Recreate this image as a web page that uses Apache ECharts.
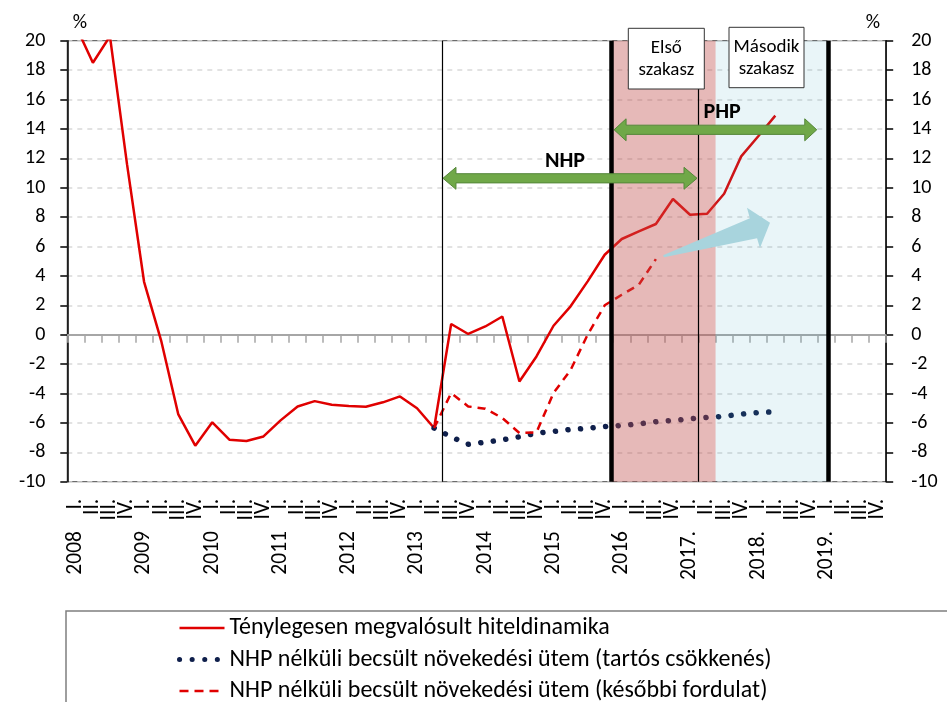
<!DOCTYPE html>
<html>
<head>
<meta charset="utf-8">
<script src="https://cdn.jsdelivr.net/npm/echarts@6/dist/echarts.min.js"></script>
<style>
html,body{margin:0;padding:0;background:#fff;}
#chart{width:947px;height:702px;}
</style>
</head>
<body>
<div id="chart"></div>
<script>
// ---- Data ----
const categories = [
  '2008\u2003I.','II.','III.','IV.',
  '2009\u2003I.','II.','III.','IV.',
  '2010\u2003I.','II.','III.','IV.',
  '2011\u2003I.','II.','III.','IV.',
  '2012\u2003I.','II.','III.','IV.',
  '2013\u2003I.','II.','III.','IV.',
  '2014\u2003I.','II.','III.','IV.',
  '2015\u2003I.','II.','III.','IV.',
  '2016\u2003I.','II.','III.','IV.',
  '2017.\u2003I.','II.','III.','IV.',
  '2018.\u2003I.','II.','III.','IV.',
  '2019.\u2003I.','II.','III.','IV.'
];
const yTicks = { min: -10, max: 20, interval: 2 };

const actualGrowth = [
  21.0, 18.5, 20.3, 11.6,
  3.6, -0.4, -5.4, -7.55,
  -5.96, -7.14, -7.23, -6.92,
  -5.83, -4.88, -4.52, -4.76,
  -4.85, -4.9, -4.6, -4.2,
  -5.0, -6.35, 0.73, 0.05,
  0.56, 1.24, -3.18, -1.48,
  0.61, 1.93, 3.63, 5.44,
  6.51, 7.03, 7.53, 9.23,
  8.16, 8.23, 9.59, 12.13,
  13.5, 14.9, null, null,
  null, null, null, null
];
const persistentDecline = [
  null, null, null, null,
  null, null, null, null,
  null, null, null, null,
  null, null, null, null,
  null, null, null, null,
  null, -6.35, -6.95, -7.45,
  -7.32, -7.15, -6.95, -6.7,
  -6.58, -6.45, -6.37, -6.25,
  -6.17, -6.07, -5.92, -5.83,
  -5.72, -5.63, -5.55, -5.4,
  -5.3, -5.24, null, null,
  null, null, null, null
];
const laterTurn = [
  null, null, null, null,
  null, null, null, null,
  null, null, null, null,
  null, null, null, null,
  null, null, null, null,
  null, -6.35, -3.97, -4.88,
  -5.03, -5.67, -6.69, -6.64,
  -3.97, -2.4, 0.0, 2.0,
  2.72, 3.4, 5.14, null,
  null, null, null, null,
  null, null, null, null,
  null, null, null, null
];
const seriesNames = [
  'Ténylegesen megvalósult hiteldinamika',
  'NHP nélküli becsült növekedési ütem (tartós csökkenés)',
  'NHP nélküli becsült növekedési ütem (későbbi fordulat)'
];
// phase positions on a continuous quarter scale (0 = left edge, 48 = right edge)
const phaseFirst = [31.9, 38.0];
const phaseSecond = [38.0, 44.6];
const thinMarkers = [22.0, 37.0];

// ---- Chart ----
const FONT = 'Carlito, Lato, "Liberation Sans", sans-serif';
const RED = '#e00000';
const NAVY = '#0f1f4b';
const chart = echarts.init(document.getElementById('chart'), null, {renderer: 'canvas'});

const option = {
  animation: false,
  backgroundColor: '#fff',
  textStyle: { fontFamily: FONT },
  grid: {
    left: 67.3, right: 60.8, top: 40.7, bottom: 220.3,
    show: true, borderColor: '#6b6b6b', borderWidth: 1.2, backgroundColor: 'transparent'
  },
  legend: {
    orient: 'vertical',
    left: 177, top: 615, height: 140, padding: 0,
    itemWidth: 45, itemHeight: 12, itemGap: 5.5,
    itemStyle: { color: 'rgba(0,0,0,0)', borderColor: 'rgba(0,0,0,0)', borderWidth: 0 },
    textStyle: { fontSize: 24, color: '#000', fontFamily: FONT, lineHeight: 26 },
    data: [
      { name: seriesNames[0], lineStyle: { color: RED, width: 2.5, type: 'solid' } },
      { name: seriesNames[1], lineStyle: { color: NAVY, width: 5, type: [0.1, 12.5], cap: 'round' } },
      { name: seriesNames[2], lineStyle: { color: RED, width: 2.5, type: [9, 6] } }
    ]
  },
  xAxis: [
    {
      type: 'category', data: categories, position: 'bottom', boundaryGap: true,
      axisLine: { show: false }, axisTick: { show: false }, splitLine: { show: false },
      axisLabel: { rotate: 90, interval: 0, margin: 17, fontSize: 21.5, color: '#000', fontFamily: FONT }
    },
    {
      type: 'category', data: categories, position: 'top', boundaryGap: true,
      axisLine: { show: true, onZero: true, lineStyle: { color: '#a6a6a6', width: 2 } },
      axisTick: { show: true, inside: true, length: 8, interval: 0, lineStyle: { color: '#a6a6a6', width: 1.5 } },
      axisLabel: { show: false }, splitLine: { show: false }
    },
    {
      type: 'value', min: 0, max: 48, show: false, position: 'bottom'
    }
  ],
  yAxis: [
    {
      type: 'value', position: 'left', min: yTicks.min, max: yTicks.max, interval: yTicks.interval,
      axisLine: { show: true, lineStyle: { color: '#000', width: 1.5 } },
      axisTick: { show: true, length: 7, lineStyle: { color: '#000', width: 1.5 } },
      axisLabel: { fontSize: 20, color: '#000', margin: 22, fontFamily: FONT },
      splitLine: { show: true, lineStyle: { color: '#d9d9d9', width: 1.5, type: [5, 5] } }
    },
    {
      type: 'value', position: 'right', min: yTicks.min, max: yTicks.max, interval: yTicks.interval,
      axisLine: { show: true, lineStyle: { color: '#000', width: 1.5 } },
      axisTick: { show: true, length: 7, lineStyle: { color: '#000', width: 1.5 } },
      axisLabel: { fontSize: 20, color: '#000', margin: 25, fontFamily: FONT },
      splitLine: { show: false }
    }
  ],
  series: [
    {
      name: seriesNames[0], type: 'line', data: actualGrowth, xAxisIndex: 0, yAxisIndex: 0,
      symbol: 'none', z: 2, clip: true, connectNulls: false,
      lineStyle: { color: RED, width: 2.5 }, itemStyle: { color: RED }
    },
    {
      name: seriesNames[1], type: 'line', data: persistentDecline, xAxisIndex: 0, yAxisIndex: 0,
      symbol: 'none', z: 2,
      lineStyle: { color: NAVY, width: 5.5, type: [0.1, 12.5], cap: 'round' }, itemStyle: { color: NAVY }
    },
    {
      name: seriesNames[2], type: 'line', data: laterTurn, xAxisIndex: 0, yAxisIndex: 0,
      symbol: 'none', z: 2,
      lineStyle: { color: RED, width: 2.5, type: [8, 6] }, itemStyle: { color: RED }
    },
    {
      name: 'phases', type: 'line', data: [], xAxisIndex: 2, yAxisIndex: 0, z: 3,
      markArea: {
        silent: true, z: 3,
        data: [
          [{ coord: [phaseFirst[0], yTicks.min], itemStyle: { color: 'rgba(192,80,77,0.4)' } },
           { coord: [phaseFirst[1], yTicks.max] }],
          [{ coord: [phaseSecond[0], yTicks.min], itemStyle: { color: 'rgba(75,172,198,0.12)' } },
           { coord: [phaseSecond[1], yTicks.max] }]
        ]
      }
    },
    {
      name: 'markers', type: 'line', data: [], xAxisIndex: 2, yAxisIndex: 0, z: 4,
      markLine: {
        silent: true, symbol: 'none', z: 4, label: { show: false },
        data: [
          [{ coord: [phaseFirst[0], yTicks.min], lineStyle: { color: '#000', width: 4.5, type: 'solid' } },
           { coord: [phaseFirst[0], yTicks.max] }],
          [{ coord: [phaseSecond[1], yTicks.min], lineStyle: { color: '#000', width: 4.5, type: 'solid' } },
           { coord: [phaseSecond[1], yTicks.max] }],
          [{ coord: [thinMarkers[0], yTicks.min], lineStyle: { color: '#000', width: 1.2, type: 'solid' } },
           { coord: [thinMarkers[0], yTicks.max] }],
          [{ coord: [thinMarkers[1], yTicks.min], lineStyle: { color: '#000', width: 1.2, type: 'solid' } },
           { coord: [thinMarkers[1], yTicks.max] }]
        ]
      }
    }
  ]
};
chart.setOption(option);

// ---- Annotations (positioned through the axes) ----
function px(x, y) { return chart.convertToPixel({ xAxisIndex: 2, yAxisIndex: 0 }, [x, y]); }
function doubleArrow(x1, x2, yv, h, H, L) {
  const a = px(x1, yv), b = px(x2, yv);
  const y = a[1], l = a[0], r = b[0];
  return [[l, y], [l + L, y - H], [l + L, y - h], [r - L, y - h], [r - L, y - H], [r, y],
          [r - L, y + H], [r - L, y + h], [l + L, y + h], [l + L, y + H]];
}
const nhpArrow = doubleArrow(22.02, 36.91, 10.64, 4.6, 11, 13);
const phpArrow = doubleArrow(32.05, 43.93, 13.94, 4.6, 11, 12);
const tealArrowPts = [[34.92, 5.41], [40.01, 7.92], [39.84, 8.64], [41.19, 7.62], [40.60, 5.89], [40.43, 6.56], [34.98, 5.27]]
  .map(p => px(p[0], p[1]));
const nhpTxt = px(29.17, 11.79);
const phpTxt = px(38.38, 15.12);

chart.setOption({
  graphic: [
    { type: 'polygon', z: 20, shape: { points: nhpArrow }, style: { fill: '#70a848', stroke: '#55873a', lineWidth: 1 } },
    { type: 'polygon', z: 20, shape: { points: phpArrow }, style: { fill: '#70a848', stroke: '#55873a', lineWidth: 1 } },
    { type: 'polygon', z: 20, shape: { points: tealArrowPts }, style: { fill: '#a8d4dd', stroke: null } },
    { type: 'text', z: 21, x: nhpTxt[0], y: nhpTxt[1], style: { text: 'NHP', font: 'bold 22px ' + FONT, fill: '#000', align: 'center', verticalAlign: 'middle' } },
    { type: 'text', z: 21, x: phpTxt[0], y: phpTxt[1], style: { text: 'PHP', font: 'bold 22px ' + FONT, fill: '#000', align: 'center', verticalAlign: 'middle' } },
    // phase boxes
    { type: 'rect', z: 22, shape: { x: 628.3, y: 28.3, width: 76, height: 60.7 }, style: { fill: '#fff', stroke: '#333', lineWidth: 1 } },
    { type: 'text', z: 23, x: 666.3, y: 59, style: { text: 'Első\nszakasz', font: '19px ' + FONT, fill: '#000', align: 'center', verticalAlign: 'middle', lineHeight: 22 } },
    { type: 'rect', z: 22, shape: { x: 729, y: 27.3, width: 75, height: 60.4 }, style: { fill: '#fff', stroke: '#333', lineWidth: 1 } },
    { type: 'text', z: 23, x: 766.5, y: 58, style: { text: 'Második\nszakasz', font: '19px ' + FONT, fill: '#000', align: 'center', verticalAlign: 'middle', lineHeight: 22 } },
    // percent signs
    { type: 'text', z: 23, x: 80, y: 23, style: { text: '%', font: '20px ' + FONT, fill: '#000', align: 'center', verticalAlign: 'middle' } },
    { type: 'text', z: 23, x: 873, y: 23, style: { text: '%', font: '20px ' + FONT, fill: '#000', align: 'center', verticalAlign: 'middle' } },
    // legend frame
    { type: 'rect', z: -1, shape: { x: 66, y: 611, width: 900, height: 120 }, style: { fill: '#fff', stroke: '#7f7f7f', lineWidth: 1.5 } }
  ]
});
</script>
</body>
</html>
